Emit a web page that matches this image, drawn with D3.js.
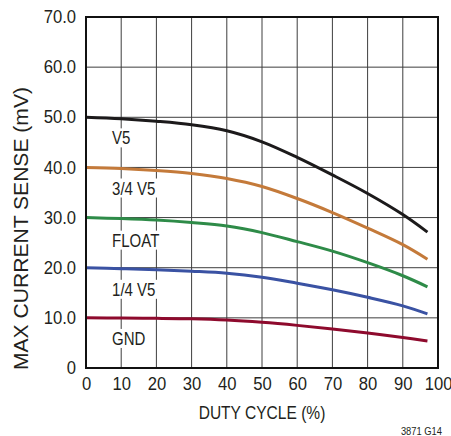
<!DOCTYPE html>
<html>
<head>
<meta charset="utf-8">
<script src="https://cdn.jsdelivr.net/npm/d3@7"></script>
<style>
	body { margin: 0; background: #fff; }
	text { font-family: "Liberation Sans", Arial, sans-serif; fill: #231f20; }
</style>
</head>
<body>
<svg id="canvas"></svg>
<script>
var width = 451,
	height = 436;

// duty cycle (%) sample points
var duty = [0, 10, 20, 30, 40, 50, 60, 70, 80, 90, 97];

// max current sense (mV)
var v5      = [50.0, 49.7, 49.2, 48.5, 47.3, 45.1, 42.0, 38.5, 34.8, 30.6, 27.1];
var v5_34   = [40.0, 39.8, 39.4, 38.8, 37.8, 36.2, 33.8, 31.0, 27.9, 24.6, 21.7];
var float_  = [30.0, 29.8, 29.5, 29.0, 28.3, 27.0, 25.2, 23.3, 21.0, 18.4, 16.2];
var v5_14   = [20.0, 19.8, 19.6, 19.3, 18.9, 18.1, 16.9, 15.6, 14.1, 12.4, 10.8];
var gnd     = [10.0, 9.95, 9.9, 9.8, 9.55, 9.1, 8.5, 7.8, 7.0, 6.1, 5.4];

var seriesNames = ["V5", "3/4 V5", "FLOAT", "1/4 V5", "GND"];
var seriesColors = ["#1c1a1b", "#c47a3a", "#2e8b48", "#3a52a3", "#8e0a2d"];
var labelValues = [44.6, 34.6, 24.2, 14.4, 4.6];   // where the series names sit

var xTicks = [0, 10, 20, 30, 40, 50, 60, 70, 80, 90, 100];
var yTicks = [0, 10, 20, 30, 40, 50, 60, 70];

var margin = {top: 17, right: 13, bottom: 68, left: 86};

var svg = d3.select("#canvas")
	.attr("width", width)
	.attr("height", height);

var x = d3.scaleLinear()
	.domain([0, 100])
	.range([margin.left, width - margin.right]);

var y = d3.scaleLinear()
	.domain([0, 70])
	.range([height - margin.bottom, margin.top]);

// squeeze text horizontally, the original uses a condensed face
function condense(sel, k) {
	sel.each(function() {
		var w = this.getComputedTextLength();
		d3.select(this)
			.attr("textLength", w * k)
			.attr("lengthAdjust", "spacingAndGlyphs");
	});
}

// grid
svg.append("g")
	.selectAll("line")
	.data(xTicks.slice(1, -1))
	.enter()
	.append("line")
	.attr("x1", d => x(d)).attr("x2", d => x(d))
	.attr("y1", y(0)).attr("y2", y(70))
	.attr("stroke", "#3e3e3e")
	.attr("stroke-width", 1);

svg.append("g")
	.selectAll("line")
	.data(yTicks.slice(1, -1))
	.enter()
	.append("line")
	.attr("x1", x(0)).attr("x2", x(100))
	.attr("y1", d => y(d)).attr("y2", d => y(d))
	.attr("stroke", "#3e3e3e")
	.attr("stroke-width", 1);

// tick labels
var xAxis = svg.append("g")
	.attr("transform", "translate(0," + y(0) + ")")
	.call(d3.axisBottom(x).tickValues(xTicks).tickSize(0).tickPadding(10).tickFormat(d3.format("d")));

var yAxis = svg.append("g")
	.attr("transform", "translate(" + x(0) + ",0)")
	.call(d3.axisLeft(y).tickValues(yTicks).tickSize(0).tickPadding(10)
		.tickFormat(d => d === 0 ? "0" : d3.format(".1f")(d)));

[xAxis, yAxis].forEach(function(a) {
	a.select(".domain").remove();
	a.selectAll("text")
		.attr("font-size", 17.5)
		.attr("font-family", null)
		.attr("fill", "#231f20");
	condense(a.selectAll("text"), 0.95);
});

// curves
var allSeries = [v5, v5_34, float_, v5_14, gnd];

var line = d3.line()
	.x((d, i) => x(duty[i]))
	.y(d => y(d))
	.curve(d3.curveCatmullRom.alpha(0.5));

svg.append("g")
	.selectAll("path")
	.data(allSeries)
	.enter()
	.append("path")
	.attr("d", line)
	.attr("fill", "none")
	.attr("stroke", (d, i) => seriesColors[i])
	.attr("stroke-width", 3);

// series labels with white box behind them
var labels = svg.append("g")
	.selectAll("g")
	.data(seriesNames)
	.enter()
	.append("g");

labels.append("text")
	.attr("x", x(7.4))
	.attr("y", (d, i) => y(labelValues[i]))
	.attr("font-size", 19)
	.text(d => d)
	.call(condense, 0.79);

labels.each(function() {
	var g = d3.select(this);
	var bb = g.select("text").node().getBBox();
	g.insert("rect", "text")
		.attr("x", bb.x - 2)
		.attr("y", bb.y + 1)
		.attr("width", bb.width + 4)
		.attr("height", bb.height - 2)
		.attr("fill", "#fff");
});

// frame
svg.append("rect")
	.attr("x", x(0))
	.attr("y", y(70))
	.attr("width", x(100) - x(0))
	.attr("height", y(0) - y(70))
	.attr("fill", "none")
	.attr("stroke", "#111")
	.attr("stroke-width", 2);

// axis titles
svg.append("text")
	.attr("x", (x(0) + x(100)) / 2)
	.attr("y", 419)
	.attr("text-anchor", "middle")
	.attr("font-size", 18.5)
	.text("DUTY CYCLE (%)")
	.call(condense, 0.84);

svg.append("text")
	.attr("transform", "translate(27.5," + 228.5 + ") rotate(-90)")
	.attr("text-anchor", "middle")
	.attr("font-size", 19.5)
	.attr("textLength", 283)
	.attr("lengthAdjust", "spacingAndGlyphs")
	.text("MAX CURRENT SENSE (mV)");

svg.append("text")
	.attr("x", 442)
	.attr("y", 435)
	.attr("text-anchor", "end")
	.attr("font-size", 11)
	.text("3871 G14")
	.call(condense, 0.85);
</script>
</body>
</html>
